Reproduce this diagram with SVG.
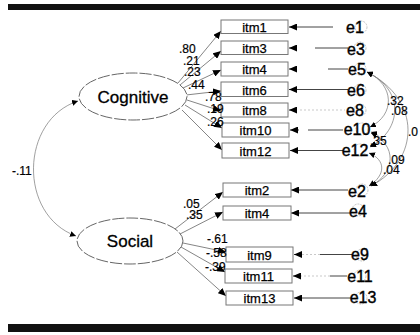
<svg xmlns="http://www.w3.org/2000/svg" width="420" height="335" viewBox="0 0 420 335">
<defs>
<marker id="ah" markerUnits="userSpaceOnUse" markerWidth="9" markerHeight="7" refX="8" refY="3.5" orient="auto">
<path d="M0,0 L8,3.5 L0,7 Z" fill="#000"/>
</marker>
<marker id="ahs" markerUnits="userSpaceOnUse" markerWidth="7" markerHeight="6" refX="6" refY="3" orient="auto-start-reverse">
<path d="M0,0 L6,3 L0,6 Z" fill="#000"/>
</marker>
<style>
.box{fill:#fff;stroke:#777;stroke-width:1}
.lat{fill:#fff;stroke:#666;stroke-width:1;stroke-dasharray:12 2}
.it{font-family:"Liberation Sans",Arial,sans-serif;font-size:13px;fill:#000;text-anchor:middle;stroke:#000;stroke-width:0.25}
.lt{font-family:"Liberation Sans",Arial,sans-serif;font-size:17px;fill:#000;text-anchor:middle;stroke:#000;stroke-width:0.3}
.num{font-family:"Liberation Sans",Arial,sans-serif;font-size:12px;fill:#000;stroke:#000;stroke-width:0.2}
.el{font-family:"Liberation Sans",Arial,sans-serif;font-size:16px;fill:#000;text-anchor:middle;stroke:#000;stroke-width:0.4}
.ec{fill:none;stroke:#aaa;stroke-width:0.7;stroke-dasharray:2 1}
.ld{fill:none;stroke:#666;stroke-width:0.8;marker-end:url(#ah)}
.er{fill:none;stroke:#444;stroke-width:1}
.erf{fill:none;stroke:#bbb;stroke-width:0.8;stroke-dasharray:2 2}
.cv{fill:none;stroke:#777;stroke-width:0.7;marker-start:url(#ahs);marker-end:url(#ahs)}
</style>
</defs>
<rect x="8" y="4" width="412" height="6" fill="#111"/>
<rect x="8" y="324" width="412" height="8" fill="#111"/>

<g id="connectors">
<path class="cv" d="M78,101 C20,120 18,215 76,236"/>
<line class="ld" x1="178" y1="83" x2="221" y2="31"/>
<line class="ld" x1="180" y1="85" x2="221" y2="51"/>
<line class="ld" x1="183" y1="88" x2="221" y2="70"/>
<line class="ld" x1="186" y1="95" x2="221" y2="91"/>
<line class="ld" x1="187" y1="100" x2="221" y2="111"/>
<line class="ld" x1="185" y1="105" x2="222" y2="128"/>
<line class="ld" x1="182" y1="110" x2="222" y2="150"/>
<line class="ld" x1="175" y1="229" x2="223" y2="192"/>
<line class="ld" x1="180" y1="234" x2="223" y2="212"/>
<line class="ld" x1="183" y1="243" x2="226" y2="252"/>
<line class="ld" x1="181" y1="247" x2="225" y2="272"/>
<line class="ld" x1="177" y1="252" x2="226" y2="296"/>
<line class="er" x1="333" y1="27" x2="289" y2="27" marker-end="url(#ah)"/>
<line class="er" x1="315" y1="48" x2="348" y2="48"/>
<line class="er" x1="297" y1="48" x2="289" y2="48" marker-end="url(#ah)"/>
<line class="er" x1="328" y1="69" x2="348" y2="69"/>
<line class="er" x1="297" y1="69" x2="289" y2="69" marker-end="url(#ah)"/>
<line class="er" x1="348" y1="89.5" x2="289" y2="89.5" marker-end="url(#ah)"/>
<line class="erf" x1="300" y1="110" x2="345" y2="110"/>
<line class="er" x1="297" y1="110" x2="289" y2="110" marker-end="url(#ah)"/>
<line class="er" x1="308" y1="130" x2="343" y2="130"/>
<line class="er" x1="299" y1="130" x2="290" y2="130" marker-end="url(#ah)"/>
<line class="er" x1="343" y1="150.5" x2="290" y2="150.5" marker-end="url(#ah)"/>
<line class="er" x1="348" y1="190" x2="291" y2="190" marker-end="url(#ah)"/>
<line class="er" x1="350" y1="213" x2="291" y2="213" marker-end="url(#ah)"/>
<line class="erf" x1="302" y1="254.5" x2="320" y2="254.5"/>
<line class="er" x1="352" y1="254.5" x2="320" y2="254.5"/>
<line class="er" x1="302" y1="254.5" x2="294" y2="254.5" marker-end="url(#ah)"/>
<line class="erf" x1="300" y1="276" x2="330" y2="276"/>
<line class="er" x1="347" y1="276" x2="330" y2="276"/>
<line class="er" x1="301" y1="276" x2="293" y2="276" marker-end="url(#ah)"/>
<line class="er" x1="352" y1="298" x2="294" y2="298" marker-end="url(#ah)"/>
<path class="cv" d="M367,72 C395,85 395,115 370,127"/>
<path class="cv" d="M367,72 C405,90 402,130 370,147"/>
<path class="cv" d="M367,72 C422,100 420,160 371,186"/>
<path class="cv" d="M371,132 C383,136 383,142 370,146"/>
<path class="cv" d="M371,133 C397,145 396,172 371,186"/>
<path class="cv" d="M369,153 C386,160 386,175 369,186"/>
</g>

<g id="Cognitive">
<ellipse class="lat" cx="133" cy="96.5" rx="54" ry="23.5"/>
<text class="lt" x="133" y="103">Cognitive</text>
</g>
<g id="Social">
<ellipse class="lat" cx="130" cy="241" rx="53" ry="23"/>
<text class="lt" x="130" y="247">Social</text>
</g>

<g id="itm1"><rect class="box" x="221" y="20" width="67" height="13.5"/><text class="it" x="254.5" y="31.5">itm1</text></g>
<g id="itm3"><rect class="box" x="221" y="41" width="67" height="13.5"/><text class="it" x="254.5" y="53">itm3</text></g>
<g id="itm4c"><rect class="box" x="221" y="62" width="67" height="14"/><text class="it" x="254.5" y="74">itm4</text></g>
<g id="itm6"><rect class="box" x="221" y="82" width="67" height="14.5"/><text class="it" x="254.5" y="94.5">itm6</text></g>
<g id="itm8"><rect class="box" x="221" y="103" width="67" height="14"/><text class="it" x="254.5" y="115">itm8</text></g>
<g id="itm10"><rect class="box" x="222" y="123" width="67" height="14"/><text class="it" x="255.5" y="135">itm10</text></g>
<g id="itm12"><rect class="box" x="222" y="143" width="67" height="15"/><text class="it" x="255.5" y="155.5">itm12</text></g>
<g id="itm2"><rect class="box" x="223" y="183" width="68" height="14"/><text class="it" x="257" y="195">itm2</text></g>
<g id="itm4s"><rect class="box" x="223" y="206" width="68" height="14"/><text class="it" x="257" y="218">itm4</text></g>
<g id="itm9"><rect class="box" x="226" y="247" width="67" height="15"/><text class="it" x="259.5" y="259.5">itm9</text></g>
<g id="itm11"><rect class="box" x="225" y="269" width="67" height="14"/><text class="it" x="258.5" y="281">itm11</text></g>
<g id="itm13"><rect class="box" x="226" y="291" width="67" height="14"/><text class="it" x="259.5" y="303">itm13</text></g>

<g id="e1"><circle class="ec" cx="361" cy="27" r="6"/><text class="el" x="355" y="33">e1</text></g>
<g id="e3"><circle class="ec" cx="360" cy="48" r="6"/><text class="el" x="356" y="55">e3</text></g>
<g id="e5"><circle class="ec" cx="360" cy="69" r="6"/><text class="el" x="357" y="75">e5</text></g>
<g id="e6"><circle class="ec" cx="360" cy="90" r="6"/><text class="el" x="356" y="96">e6</text></g>
<g id="e8"><circle class="ec" cx="360" cy="110" r="6"/><text class="el" x="355" y="116">e8</text></g>
<g id="e10"><circle class="ec" cx="362" cy="129" r="6"/><text class="el" x="357" y="135">e10</text></g>
<g id="e12"><circle class="ec" cx="360" cy="150" r="6"/><text class="el" x="355" y="156">e12</text></g>
<g id="e2"><circle class="ec" cx="362" cy="190" r="6"/><text class="el" x="357" y="197">e2</text></g>
<g id="e4"><circle class="ec" cx="358" cy="210" r="6"/><text class="el" x="358" y="217">e4</text></g>
<g id="e9"><circle class="ec" cx="362" cy="255" r="6"/><text class="el" x="360" y="260">e9</text></g>
<g id="e11"><circle class="ec" cx="360" cy="276" r="6"/><text class="el" x="360" y="282">e11</text></g>
<g id="e13"><circle class="ec" cx="361" cy="298" r="6"/><text class="el" x="363" y="303">e13</text></g>

<g id="labels">
<text class="num" x="12" y="175">-.11</text>
<text class="num" x="179" y="53">.80</text>
<text class="num" x="183" y="65">.21</text>
<text class="num" x="184" y="76">.23</text>
<text class="num" x="188" y="89">.44</text>
<text class="num" x="205" y="101">.78</text>
<text class="num" x="207" y="113">.19</text>
<text class="num" x="207" y="126">.26</text>
<text class="num" x="183" y="208">.05</text>
<text class="num" x="186" y="219">.35</text>
<text class="num" x="207" y="243">-.61</text>
<text class="num" x="206" y="257">-.58</text>
<text class="num" x="205" y="271">-.39</text>
<text class="num" x="387" y="105">.32</text>
<text class="num" x="391" y="115">.08</text>
<text class="num" x="408" y="136">.0</text>
<text class="num" x="370" y="145">.35</text>
<text class="num" x="388" y="164">.09</text>
<text class="num" x="383" y="174">.04</text>
</g>
</svg>
